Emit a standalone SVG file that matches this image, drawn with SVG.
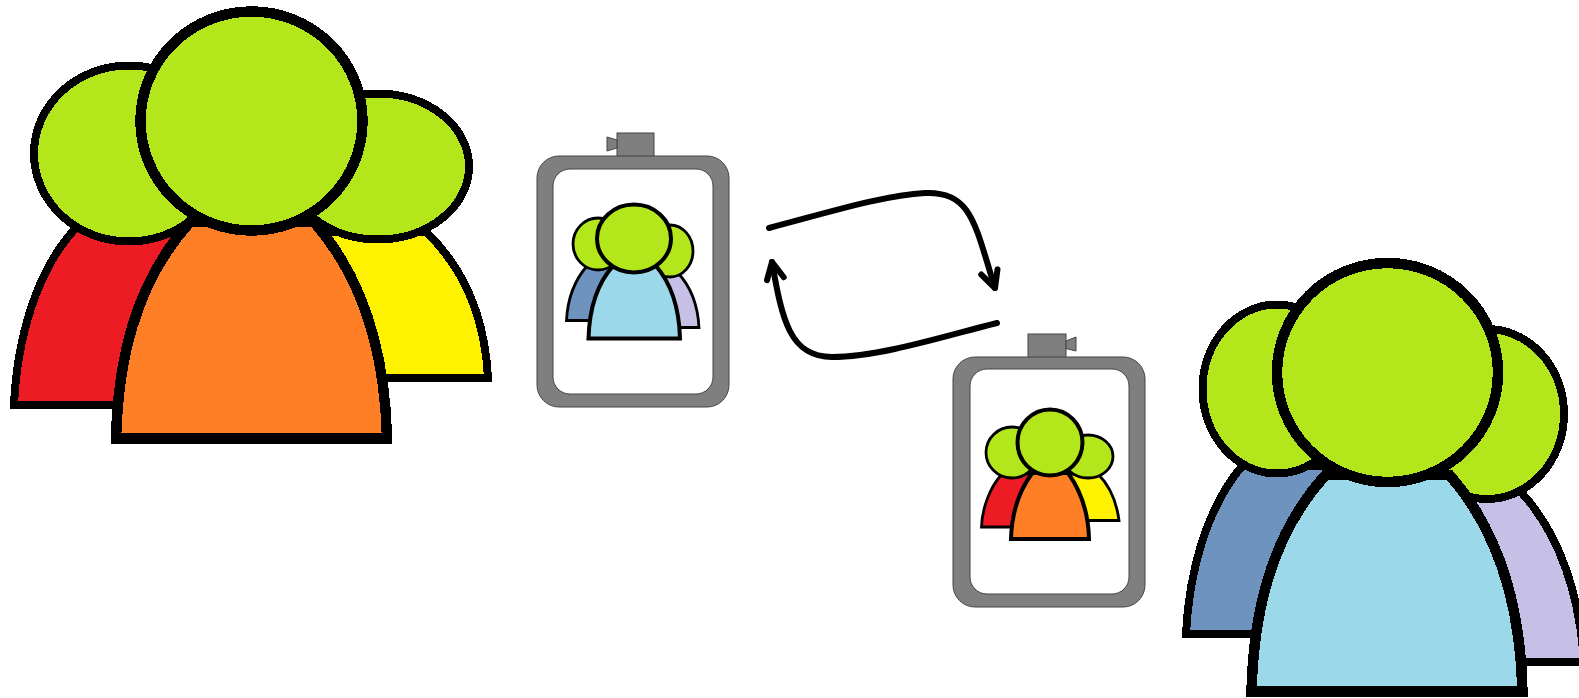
<svg xmlns="http://www.w3.org/2000/svg" width="1579" height="698" viewBox="0 0 1579 698">
<style>
.head{fill:#b3e61b}
.ln{stroke:#000;stroke-linejoin:miter}
.big{shape-rendering:crispEdges}
.big .back{stroke-width:8}
.big .front{stroke-width:10.5}
.sm .back{stroke-width:2.8}
.sm .front{stroke-width:4}
.red{fill:#ed1c24}.org{fill:#ff7f27}.yel{fill:#fff200}.blu{fill:#6f93bf}.cya{fill:#9bd9ea}.lav{fill:#c6bfe6}
.dev{fill:#7f7f7f;stroke:#444;stroke-width:1}
.scr{fill:#fff;stroke:#444;stroke-width:1}
.arr{fill:none;stroke:#000;stroke-width:6;stroke-linecap:round}
</style>
<defs>
<marker id="v" markerUnits="userSpaceOnUse" markerWidth="40" markerHeight="40" refX="20" refY="20" orient="auto" overflow="visible">
<path d="M3,12 L20,20 L3,29" fill="none" stroke="#000" stroke-width="6" stroke-linecap="round" stroke-linejoin="round"/>
</marker>
</defs>
<rect width="1579" height="698" fill="#fff"/>
<g id="group-warm-large" class="big">
<path class="ln back red" d="M14,405 C17,340 36,270 76,228 L172,228 L250,405 Z"/>
<ellipse class="ln back head" cx="129" cy="153.500" rx="95" ry="88"/>
<path class="ln back yel" d="M488,378 C485,320 466,270 426,232 L320,232 L250,378 Z"/>
<ellipse class="ln back head" cx="378" cy="166.500" rx="91" ry="73"/>
<path class="ln front org" d="M116,438.500 C118,365 133,285 190,222 L314,222 C365,280 385,355 387,438.500 Z"/>
<ellipse class="ln front head" cx="251.500" cy="121" rx="111" ry="109.500"/>
</g>
<g id="device-left">
<rect class="dev" x="617" y="133" width="37" height="24"/>
<path class="dev" d="M607,137 L617,140 L617,148 L607,151 Z"/>
<rect class="dev" x="537" y="156" width="192" height="251" rx="22"/>
<rect class="scr" x="553" y="169" width="160" height="225" rx="17"/>
</g>
<g id="group-cool-small" class="sm">
<path class="ln back blu" d="M566.500,320.500 C567.500,300 573,282 587,266 L620,266 L640,320.500 Z"/>
<ellipse class="ln back head" cx="598" cy="244" rx="25" ry="26"/>
<path class="ln back lav" d="M699,327.500 C698,308 692,288 678,273 L650,273 L640,327.500 Z"/>
<ellipse class="ln back head" cx="670" cy="251" rx="23" ry="26"/>
<path class="ln front cya" d="M588.500,338.500 C589.200,313.700 594.200,286.600 613.500,265.300 L655.400,265.300 C672.600,285 679.300,310.300 680,338.500 Z"/>
<ellipse class="ln front head" cx="634" cy="238.500" rx="37" ry="34"/>
</g>
<g id="connectors">
<path class="arr" marker-end="url(#v)" d="M769,228 C830,212 885,195 925,193 C972,191 975,225 995,288"/>
<path class="arr" marker-end="url(#v)" d="M997,323 C945,336 880,357 832,357 C790,357 782,320 772,262"/>
</g>
<g id="device-right">
<rect class="dev" x="1028" y="334" width="38" height="24"/>
<path class="dev" d="M1076,337 L1066,341 L1066,348.500 L1076,351 Z"/>
<rect class="dev" x="953" y="357" width="192" height="250" rx="22"/>
<rect class="scr" x="970" y="369" width="159" height="225" rx="17"/>
</g>
<g id="group-warm-small" class="sm">
<path class="ln back red" d="M981.500,527 C982,510 989,488 1002,474 L1040,474 L1050,527 Z"/>
<ellipse class="ln back head" cx="1012" cy="452.500" rx="26" ry="25.500"/>
<path class="ln back yel" d="M1119,520.500 C1117,505 1112,488 1098,474 L1070,474 L1050,520.500 Z"/>
<ellipse class="ln back head" cx="1088" cy="456.500" rx="25" ry="21.500"/>
<path class="ln front org" d="M1011,539 C1011.600,517.800 1015.900,494.800 1032.300,473 L1068,473 C1082.700,493.400 1088.500,515 1089,539 Z"/>
<ellipse class="ln front head" cx="1050" cy="442.500" rx="32.500" ry="33"/>
</g>
<g id="group-cool-large" class="big">
<path class="ln back blu" d="M1186,633.500 C1189,575 1205,510 1242,466 L1330,466 L1400,633.500 Z"/>
<ellipse class="ln back head" cx="1277" cy="389" rx="74.500" ry="84.500"/>
<path class="ln back lav" d="M1584,662 C1580,600 1562,535 1519,490 L1440,490 L1400,662 Z"/>
<ellipse class="ln back head" cx="1487" cy="414" rx="77" ry="85"/>
<path class="ln front cya" d="M1251.500,691.500 C1253.500,618 1268.500,538 1325.500,475 L1449.500,475 C1500.500,533 1520.500,608 1522.500,691.500 Z"/>
<ellipse class="ln front head" cx="1387.500" cy="372.500" rx="110.500" ry="109.500"/>
</g>
</svg>
